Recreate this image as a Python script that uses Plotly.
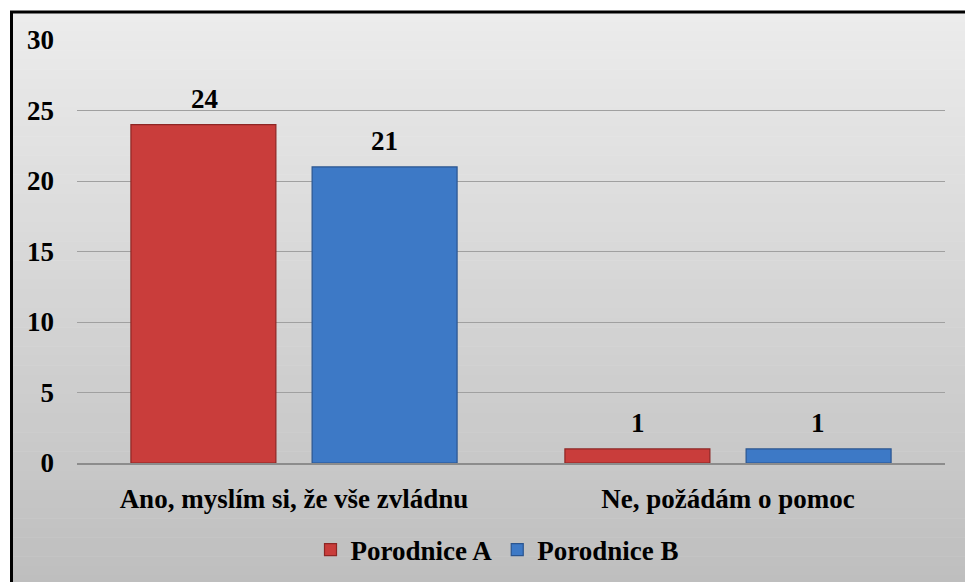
import plotly.graph_objects as go

# Survey answers and counts per maternity hospital
categories = ["Ano, myslím si, že vše zvládnu", "Ne, požádám o pomoc"]
series_names = ["Porodnice A", "Porodnice B"]
porodnice_a = [24, 1]
porodnice_b = [21, 1]
y_ticks = [0, 5, 10, 15, 20, 25, 30]

W, H = 965, 582
L, R, T, B = 77, 20, 40, 119
PW, PH = W - L - R, H - T - B

FONT = "Liberation Serif"
FS = 27
fills = ["#c93d3b", "#3d79c6"]
edges = ["#8e2624", "#2a5590"]

fig = go.Figure()
for name, vals, fc, ec in zip(series_names, [porodnice_a, porodnice_b], fills, edges):
    fig.add_trace(go.Bar(
        name=name, x=categories, y=vals,
        marker=dict(color=fc, line=dict(color=ec, width=1.2)),
        hoverinfo="x+y+name",
    ))


def px_to_paper_x(px):
    return (px - L) / PW


def px_to_paper_y(py):
    return (T + PH - py) / PH


# Chart box background: vertical light-to-mid gray gradient built from strips
shapes = []
top_px, bot_px = 12, 585
n = 60
c0, c1 = 236, 190
for i in range(n):
    y0 = top_px + (bot_px - top_px) * i / n
    y1 = top_px + (bot_px - top_px) * (i + 1) / n + 0.5
    c = round(c0 + (c1 - c0) * (i + 0.5) / n)
    shapes.append(dict(
        type="rect", xref="paper", yref="paper", layer="below",
        x0=px_to_paper_x(12), x1=px_to_paper_x(975),
        y0=px_to_paper_y(y1), y1=px_to_paper_y(y0),
        fillcolor=f"rgb({c},{c},{c})", line=dict(width=0),
    ))
# Black frame around the chart box
shapes.append(dict(
    type="rect", xref="paper", yref="paper", layer="above",
    x0=px_to_paper_x(11.5), x1=px_to_paper_x(990),
    y0=px_to_paper_y(600), y1=px_to_paper_y(12),
    line=dict(color="black", width=3), fillcolor="rgba(0,0,0,0)",
))

# Value labels above each bar
annotations = []
offset = 90
for vals, dx in zip([porodnice_a, porodnice_b], [-offset, offset]):
    for cat, v in zip(categories, vals):
        annotations.append(dict(
            x=cat, y=v, xref="x", yref="y", text=f"<b>{v}</b>",
            showarrow=False, xshift=dx, yshift=9, yanchor="bottom",
            font=dict(family=FONT, size=FS, color="black"),
        ))

fig.update_layout(
    width=W, height=H,
    margin=dict(l=L, r=R, t=T, b=B, autoexpand=False),
    paper_bgcolor="white",
    plot_bgcolor="white",
    barmode="group",
    bargap=0.165,
    bargroupgap=0.2,
    shapes=shapes,
    annotations=annotations,
    showlegend=True,
    legend=dict(
        orientation="h", x=px_to_paper_x(497), xanchor="center",
        y=px_to_paper_y(550), yanchor="middle",
        bgcolor="rgba(0,0,0,0)",
        font=dict(family=FONT, size=FS, color="black", weight="bold"),
        itemwidth=30, tracegroupgap=0,
    ),
    font=dict(family=FONT, size=FS, color="black"),
)

fig.update_xaxes(
    showline=True, linecolor="#8c8c8c", linewidth=1.5,
    ticks="", showgrid=False,
    tickfont=dict(family=FONT, size=FS, color="black", weight="bold"),
    ticklabelstandoff=11,
)
fig.update_yaxes(
    range=[0, 30], tickvals=y_ticks,
    showgrid=True, gridcolor="#a0a0a0", gridwidth=1,
    zeroline=False, showline=False, ticks="",
    tickfont=dict(family=FONT, size=FS, color="black", weight="bold"),
    ticklabelstandoff=22,
)

fig.write_html("out.html")
